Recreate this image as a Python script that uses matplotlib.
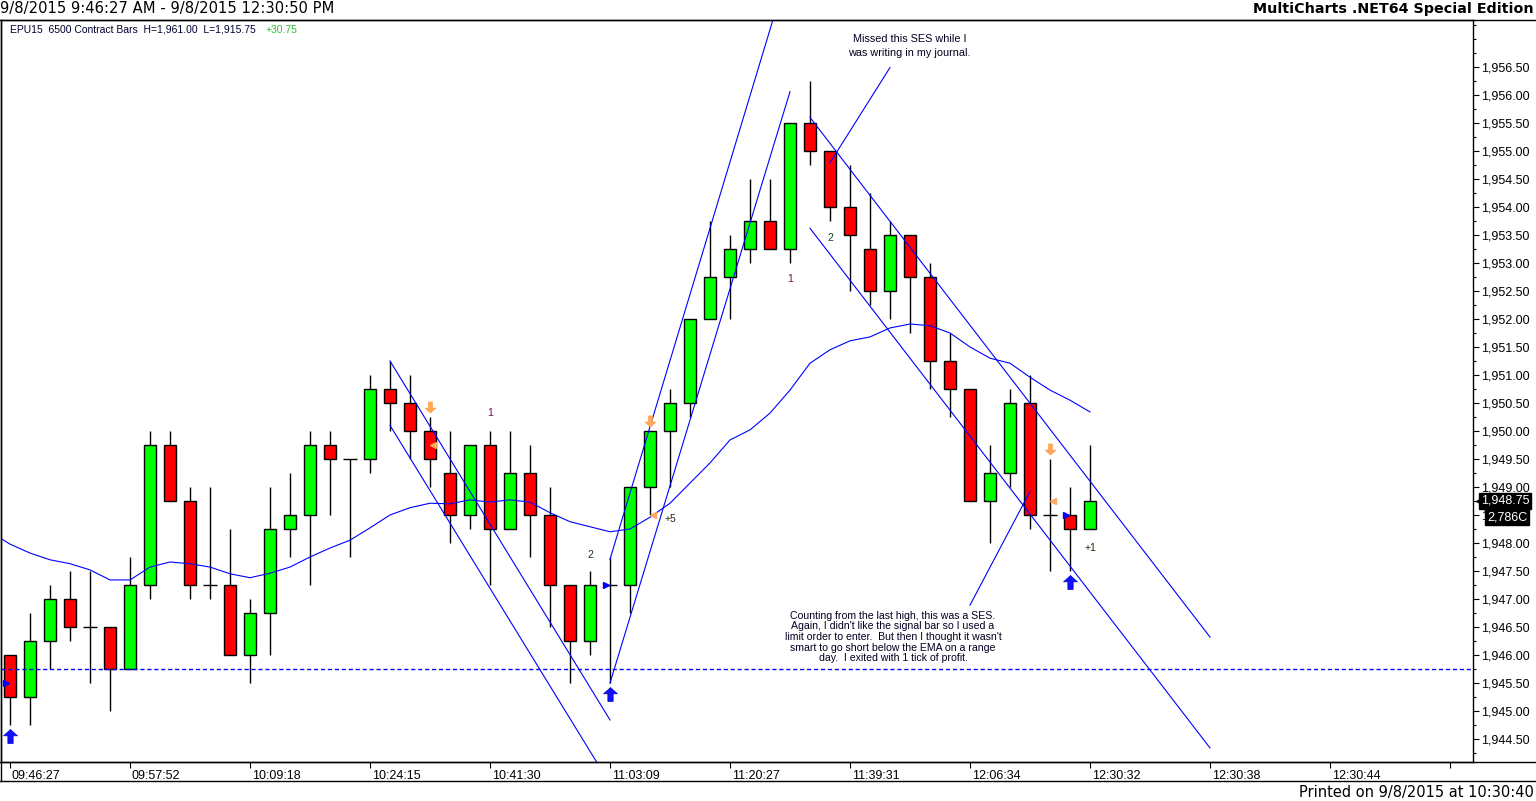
import matplotlib
matplotlib.use("Agg")
import matplotlib.pyplot as plt
from matplotlib.lines import Line2D
from matplotlib.patches import Rectangle
from matplotlib.path import Path
from matplotlib.ticker import MultipleLocator, FixedLocator, FuncFormatter
from matplotlib.transforms import offset_copy, blended_transform_factory

W, H, DPI = 1536, 801, 100

# --- bar data (6500 contract bars) ---
opens = [1946.0, 1945.25, 1946.25, 1947.0, 1946.5, 1946.5, 1945.75, 1947.25, 1949.75, 1948.75,
         1947.25, 1947.25, 1946.0, 1946.75, 1948.25, 1948.5, 1949.75, 1949.5, 1949.5, 1950.75,
         1950.5, 1950.0, 1949.25, 1948.5, 1949.75, 1948.25, 1949.25, 1948.5, 1947.25, 1946.25,
         1947.25, 1947.25, 1949.0, 1950.0, 1950.5, 1952.0, 1952.75, 1953.25, 1953.75, 1953.25,
         1955.5, 1955.0, 1954.0, 1953.25, 1952.5, 1953.5, 1952.75, 1951.25, 1950.75, 1948.75,
         1949.25, 1950.5, 1948.5, 1948.5, 1948.25]
highs = [1946.0, 1946.75, 1947.25, 1947.5, 1947.5, 1946.5, 1947.75, 1950.0, 1950.0, 1949.0,
         1949.0, 1948.25, 1947.0, 1949.0, 1949.25, 1950.0, 1950.0, 1949.5, 1951.0, 1951.25,
         1951.0, 1950.25, 1950.0, 1949.75, 1950.0, 1950.0, 1949.75, 1949.0, 1947.25, 1947.5,
         1947.75, 1949.0, 1950.0, 1950.75, 1952.0, 1953.75, 1953.5, 1954.5, 1954.5, 1955.5,
         1956.25, 1955.0, 1954.75, 1954.25, 1953.75, 1953.5, 1953.0, 1951.75, 1950.75, 1949.75,
         1950.75, 1951.0, 1949.5, 1949.0, 1949.75]
lows = [1944.75, 1944.75, 1945.75, 1946.25, 1945.5, 1945.0, 1945.75, 1947.0, 1948.75, 1947.0,
        1947.0, 1946.0, 1945.5, 1946.0, 1947.75, 1947.25, 1948.5, 1947.75, 1949.25, 1950.0,
        1949.5, 1949.0, 1948.0, 1948.25, 1947.25, 1948.25, 1947.75, 1946.5, 1945.5, 1946.0,
        1945.5, 1946.75, 1948.5, 1949.0, 1950.25, 1952.0, 1952.0, 1953.0, 1953.25, 1953.0,
        1954.75, 1953.75, 1952.5, 1952.25, 1952.0, 1951.75, 1950.75, 1950.25, 1948.75, 1948.0,
        1949.0, 1948.25, 1947.5, 1947.5, 1948.25]
closes = [1945.25, 1946.25, 1947.0, 1946.5, 1946.5, 1945.75, 1947.25, 1949.75, 1948.75, 1947.25,
          1947.25, 1946.0, 1946.75, 1948.25, 1948.5, 1949.75, 1949.5, 1949.5, 1950.75, 1950.5,
          1950.0, 1949.5, 1948.5, 1949.75, 1948.25, 1949.25, 1948.5, 1947.25, 1946.25, 1947.25,
          1947.25, 1949.0, 1950.0, 1950.5, 1952.0, 1952.75, 1953.25, 1953.75, 1953.25, 1955.5,
          1955.0, 1954.0, 1953.5, 1952.5, 1953.5, 1952.75, 1951.25, 1950.75, 1948.75, 1949.25,
          1950.5, 1948.5, 1948.5, 1948.25, 1948.75]
ema_x = [-0.5] + list(range(55))
ema = [1948.09, 1947.98, 1947.82, 1947.70, 1947.63, 1947.52, 1947.34, 1947.34, 1947.57, 1947.66,
       1947.63, 1947.57, 1947.45, 1947.38, 1947.46, 1947.57, 1947.75, 1947.91, 1948.05, 1948.27,
       1948.50, 1948.63, 1948.71, 1948.70, 1948.77, 1948.73, 1948.77, 1948.73, 1948.54, 1948.38,
       1948.29, 1948.20, 1948.25, 1948.46, 1948.71, 1949.07, 1949.43, 1949.84, 1950.02, 1950.32,
       1950.73, 1951.21, 1951.45, 1951.61, 1951.68, 1951.84, 1951.91, 1951.88, 1951.75, 1951.50,
       1951.30, 1951.21, 1950.96, 1950.73, 1950.55, 1950.34]

tick_bars = [0, 6, 12, 18, 24, 30, 36, 42, 48, 54, 60, 66, 72]
tick_labels = ["09:46:27", "09:57:52", "10:09:18", "10:24:15", "10:41:30", "11:03:09",
               "11:20:27", "11:39:31", "12:06:34", "12:30:32", "12:30:38", "12:30:44", ""]
price_ticks = [1944.5 + 0.5 * k for k in range(25)]

# hand drawn trend lines (bar, price) -> (bar, price)
trend_x0 = [19, 19, 30, 30, 40, 40, 44, 48]
trend_p0 = [1951.25, 1950.1, 1947.71, 1945.5, 1955.6, 1953.62, 1956.49, 1946.89]
trend_x1 = [30, 30, 39, 39, 60, 60, 41, 51]
trend_p1 = [1944.84, 1943.7, 1958.35, 1956.06, 1946.32, 1944.34, 1954.79, 1948.92]
level_price = 1945.75

# signals
long_bars = [0, 30, 53]
long_entry = [1945.5, 1947.25, 1948.5]
exit_bars = [21, 32, 52]
exit_price = [1949.75, 1948.5, 1948.75]

count_bars = [24, 29, 39, 41]
count_price = [1950.32, 1947.79, 1952.71, 1953.45]
count_text = ["1", "2", "1", "2"]
count_color = ["#6a0f5a", "#0f3a2a", "#6a0f5a", "#0f3a2a"]
profit_bars = [33, 54]
profit_price = [1948.43, 1947.91]
profit_text = ["+5", "+1"]

fig = plt.figure(figsize=(W / DPI, H / DPI), dpi=DPI)
ax = fig.add_axes([1 / W, (H - 762) / H, 1472 / W, 742 / H])
ax.set_xlim(-0.45, 73.15)
ax.set_ylim(1944.089, 1957.339)

# candles
for i in range(len(opens)):
    o, hi, lo, c = opens[i], highs[i], lows[i], closes[i]
    ax.vlines(i, lo, hi, color="black", lw=1.0, zorder=2)
    if o == c:
        ax.hlines(o, i - 0.35, i + 0.35, color="black", lw=1.0, zorder=2)
    else:
        col = "#00ff00" if c > o else "#ff0000"
        ax.add_patch(Rectangle((i - 0.3, min(o, c)), 0.6, abs(c - o), facecolor=col,
                               edgecolor="black", lw=1.0, zorder=3))

ax.plot(ema_x, ema, color="#0000ff", lw=0.8, zorder=4)
for x0, p0, x1, p1 in zip(trend_x0, trend_p0, trend_x1, trend_p1):
    ax.plot([x0, x1], [p0, p1], color="#0000ff", lw=0.8, zorder=4)
ax.axhline(level_price, color="#0000ff", lw=1.0, ls=(0, (3, 2)), zorder=4)

up_arrow = Path([(0, 1), (-1, 0.1), (-0.38, 0.1), (-0.38, -1), (0.38, -1), (0.38, 0.1), (1, 0.1), (0, 1)])
down_arrow = Path([(0, -1), (-1, -0.1), (-0.38, -0.1), (-0.38, 1), (0.38, 1), (0.38, -0.1), (1, -0.1), (0, -1)])
ax.plot(long_bars, [lows[b] - 0.2 for b in long_bars], ls="none", marker=up_arrow,
        ms=10, color="#1010ff", mec="#0000c0", mew=0.5, zorder=5)
ax.plot([b - 0.2 for b in long_bars], long_entry, ls="none", marker=">", ms=5,
        color="#0000ff", zorder=5)
ax.plot(exit_bars, [highs[b] + 0.17 for b in exit_bars], ls="none", marker=down_arrow,
        ms=8, color="#ffa860", mec="#ff9a40", mew=0.4, zorder=5)
ax.plot([b + 0.15 for b in exit_bars], exit_price, ls="none", marker="<", ms=5,
        color="#ffa860", zorder=5)

for b, p, t, c in zip(count_bars, count_price, count_text, count_color):
    ax.text(b, p, t, color=c, fontsize=7.5, family="Liberation Sans", ha="center", va="center")
for b, p, t in zip(profit_bars, profit_price, profit_text):
    ax.text(b, p, t, color="#2a2010", fontsize=7.5, family="Liberation Sans", ha="center", va="center")

note_font = dict(family="Liberation Sans", color="#000020", ha="center", va="center")
ax.text(44.98, 1956.87, "Missed this SES while I\nwas writing in my journal.", fontsize=7.8,
        linespacing=1.5, **note_font)
ax.text(44.15, 1946.32, "Counting from the last high, this was a SES.\n"
        "Again, I didn't like the signal bar so I used a\n"
        "limit order to enter.  But then I thought it wasn't\n"
        "smart to go short below the EMA on a range\n"
        "day.  I exited with 1 tick of profit.", fontsize=7.6, linespacing=1.08, **note_font)

# axes styling
for s in ax.spines.values():
    s.set_linewidth(1.0)
ax.yaxis.tick_right()
ax.yaxis.set_major_locator(FixedLocator(price_ticks))
ax.yaxis.set_minor_locator(MultipleLocator(0.25))
ax.yaxis.set_major_formatter(FuncFormatter(lambda v, p: f"{v:,.2f}"))
ax.tick_params(axis="y", which="major", length=4, width=0.8, pad=1.5, labelsize=9)
ax.tick_params(axis="y", which="minor", length=2, width=0.8)
ax.set_xticks(tick_bars)
ax.set_xticklabels(tick_labels)
ax.tick_params(axis="x", length=4, width=0.8, pad=2, labelsize=9)
for lab in ax.get_yticklabels() + ax.get_xticklabels():
    lab.set_fontfamily("Liberation Sans")
for lab in ax.get_xticklabels():
    lab.set_horizontalalignment("left")
    lab.set_transform(offset_copy(lab.get_transform(), fig=fig, x=2, y=0, units="dots"))

# last price marker
tr = blended_transform_factory(ax.transAxes, ax.transData)
last = closes[-1]
ax.plot([1.0045], [last], marker="<", ms=6, color="black", transform=tr, clip_on=False)
ax.text(1.0052, last, f"{last:,.2f}", transform=tr, fontsize=9, family="Liberation Sans",
        color="white", va="center", ha="left", clip_on=False,
        bbox=dict(boxstyle="square,pad=0.15", fc="black", ec="black"))
ax.text(1.0095, last - 0.29, "2,786C", transform=tr, fontsize=9, family="Liberation Sans",
        color="white", va="center", ha="left", clip_on=False,
        bbox=dict(boxstyle="square,pad=0.15", fc="black", ec="black"))

# frame of the window
def fline(x0, y0, x1, y1):
    fig.add_artist(Line2D([x0 / W, x1 / W], [1 - y0 / H, 1 - y1 / H], color="black", lw=1.0))

fline(0, 20, W, 20)
fline(0, 762, W, 762)
fline(0, 781, W, 781)
fline(0.5, 20, 0.5, 781)

fig.text(0, 1 - 9 / H, "9/8/2015 9:46:27 AM - 9/8/2015 12:30:50 PM", fontsize=10.6,
         family="DejaVu Sans", va="center", ha="left")
fig.text(1 - 2 / W, 1 - 9 / H, "MultiCharts .NET64 Special Edition", fontsize=10.3,
         family="DejaVu Sans", weight="bold", va="center", ha="right")
fig.text(1 - 2 / W, 1 - 792 / H, "Printed on 9/8/2015 at 10:30:40", fontsize=10.5,
         family="DejaVu Sans", va="center", ha="right")
fig.text(10 / W, 1 - 30 / H, "EPU15  6500 Contract Bars  H=1,961.00  L=1,915.75",
         fontsize=7.5, family="Liberation Sans", color="#000030", va="center", ha="left")
fig.text(266 / W, 1 - 30 / H, "+30.75", fontsize=7.5, family="Liberation Sans",
         color="#30c030", va="center", ha="left")

fig.savefig("out.png", dpi=DPI)
